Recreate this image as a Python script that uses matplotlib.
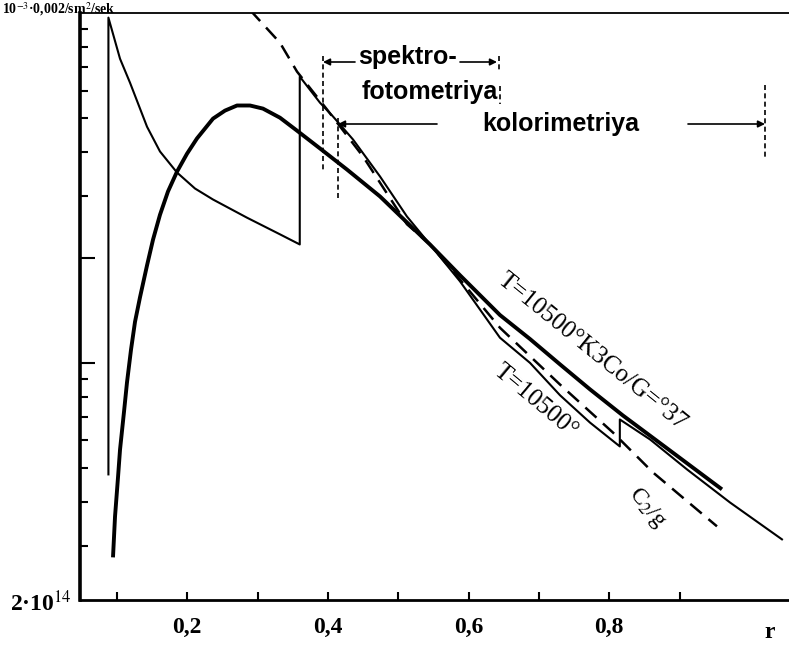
import numpy as np
import matplotlib.pyplot as plt
from matplotlib.ticker import FixedLocator, NullFormatter, NullLocator

plt.rcParams['font.family'] = ['Liberation Serif', 'DejaVu Serif']
plt.rcParams['mathtext.fontset'] = 'stix'

# intensity in units of 1e14, r as on the axis
# thick curve with the hump (continues as the "K3Co" line)
hump_r = [0.0945, 0.0974, 0.1016, 0.1045, 0.1102, 0.1144, 0.1201, 0.1258, 0.1329,
          0.1429, 0.1514, 0.1613, 0.1727, 0.1855, 0.1997, 0.2139, 0.2367, 0.2537,
          0.2708, 0.2893, 0.3077, 0.3319, 0.3561, 0.3888, 0.4271, 0.4741, 0.5124,
          0.5451, 0.5878, 0.6446, 0.6873, 0.73, 0.7726, 0.8195, 0.882, 0.9602]
hump_v = [2.78, 3.64, 4.70, 5.65, 7.26, 8.79, 10.9, 13.1, 15.4,
          19.0, 22.5, 26.5, 30.9, 35.2, 39.6, 43.8, 49.9, 52.6,
          54.4, 54.4, 53.3, 50.2, 46.1, 41.0, 35.7, 29.9, 25.2,
          21.8, 17.8, 13.7, 11.7, 9.9, 8.4, 7.07, 5.7, 4.35]

# thin sawtooth curve (T=10500)
saw_r = [0.088, 0.088, 0.1045, 0.1187, 0.1429, 0.1613, 0.1855, 0.2111, 0.2367, 0.285,
         0.3319, 0.360, 0.360, 0.3746, 0.3888, 0.4073, 0.4357, 0.4741, 0.5124, 0.5451,
         0.5878, 0.6446, 0.6873, 0.73, 0.7726, 0.815, 0.815, 0.858, 0.9105, 0.9716, 1.0455]
saw_v = [4.8, 97, 74, 63.2, 47.3, 40.2, 35.0, 31.5, 29.3, 26.0,
         23.3, 21.8, 65.8, 60.3, 55.4, 50.6, 43.5, 34.1, 26.2, 21.8,
         17.1, 11.8, 10.0, 8.08, 6.75, 5.77, 6.89, 6.04, 4.96, 3.99, 3.13]

# dashed C2/g curve
dash_r = [0.2893, 0.3319, 0.3561, 0.3987, 0.4499, 0.5124, 0.5451, 0.5878, 0.6446,
          0.73, 0.8053, 0.8622, 0.9531]
dash_v = [102, 82.2, 68.0, 53.0, 38.9, 24.9, 21.8, 17.3, 12.6,
          8.67, 6.32, 4.86, 3.41]

x_ticks = [0.1, 0.2, 0.3, 0.4, 0.5, 0.6, 0.7, 0.8, 0.9]
x_labels = ['', '0,2', '', '0,4', '', '0,6', '', '0,8', '']
y_major = [10, 20]
y_minor = [3, 4, 5, 6, 7, 8, 9, 30, 40, 50, 60, 70, 80, 90]

W, H = 789, 649
fig = plt.figure(figsize=(W / 100, H / 100), dpi=100)
ax = fig.add_axes([80 / W, 49 / H, 1 - 80 / W, (600 - 13) / H])


def fp(x, y):
    # pixel position in the picture -> figure fraction
    return (x / W, 1 - y / H)


ax.plot(hump_r, np.array(hump_v) * 1e14, color='black', lw=2.8, solid_capstyle='butt')
ax.plot(saw_r, np.array(saw_v) * 1e14, color='black', lw=1.5)
ax.plot(dash_r, np.array(dash_v) * 1e14, color='black', lw=1.8, dashes=(6, 3.5))

ax.set_yscale('log')
ax.set_xlim(0.0476, 1.0555)
ax.set_ylim(2.1e14, 1.0e16)

ax.yaxis.set_major_locator(FixedLocator(np.array(y_major) * 1e14))
ax.yaxis.set_minor_locator(FixedLocator(np.array(y_minor) * 1e14))
ax.yaxis.set_major_formatter(NullFormatter())
ax.yaxis.set_minor_formatter(NullFormatter())
ax.tick_params(axis='y', which='major', direction='in', length=11, width=1.5)
ax.tick_params(axis='y', which='minor', direction='in', length=6, width=1.5)

ax.set_xticks(x_ticks)
ax.set_xticklabels(x_labels, fontsize=17, fontweight='bold')
ax.xaxis.set_minor_locator(NullLocator())
ax.tick_params(axis='x', direction='in', length=6, width=1.5, pad=12)

ax.spines['right'].set_visible(False)
ax.spines['left'].set_linewidth(2.6)
ax.spines['bottom'].set_linewidth(2.0)
ax.spines['top'].set_linewidth(1.3)

# axis texts
fig.text(*fp(72, 603), '2·10$^{14}$', ha='right', va='center', fontsize=17, fontweight='bold')
fig.text(*fp(770, 632), 'r', ha='center', va='center', fontsize=17, fontweight='bold')
fig.text(*fp(2, 0), '10$^{-3}$·0,002/sm$^{2}$/sek', ha='left', va='top',
         fontsize=10, fontweight='bold')

# curve labels
fig.text(*fp(592, 352), 'T=10500°K3Co/G=°37', rotation=-39, ha='center', va='center', fontsize=18)
fig.text(*fp(535, 401), 'T=10500°', rotation=-40, ha='center', va='center', fontsize=18)
fig.text(*fp(647, 508), 'C$_2$/g', rotation=-50, ha='center', va='center', fontsize=17)

# measurement ranges
sans = ['Liberation Sans', 'DejaVu Sans']
fig.text(*fp(408, 57), 'spektro-', family=sans, fontweight='bold', fontsize=18, ha='center', va='center')
fig.text(*fp(430, 92), 'fotometriya', family=sans, fontweight='bold', fontsize=18, ha='center', va='center')
fig.text(*fp(561, 124), 'kolorimetriya', family=sans, fontweight='bold', fontsize=18, ha='center', va='center')

arrow = dict(arrowstyle='-|>', lw=1.2, color='black', mutation_scale=10, shrinkA=0, shrinkB=0)
for start, end in [((355, 62), (323, 62)), ((460, 62), (497, 62)),
                   ((437, 124), (338, 124)), ((688, 124), (765, 124))]:
    ax.annotate('', xy=fp(*end), xytext=fp(*start), xycoords='figure fraction',
                textcoords='figure fraction', arrowprops=arrow)

for x, y0, y1 in [(323, 56, 170), (338, 118, 200), (499, 56, 70), (500, 86, 104), (765, 85, 160)]:
    p0, p1 = fp(x, y0), fp(x, y1)
    fig.add_artist(plt.Line2D([p0[0], p1[0]], [p0[1], p1[1]], transform=fig.transFigure,
                              color='black', lw=1.2, linestyle=(0, (3, 2))))

fig.savefig('out.png', dpi=100)
